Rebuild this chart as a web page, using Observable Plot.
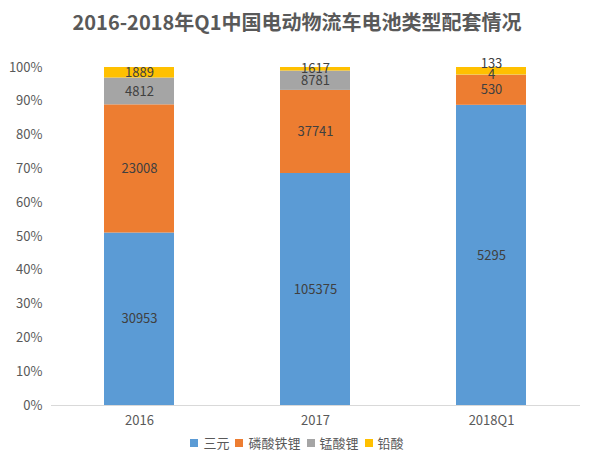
<!DOCTYPE html>
<html>
<head>
<meta charset="utf-8">
<script src="https://cdn.jsdelivr.net/npm/d3@7"></script>
<script src="https://cdn.jsdelivr.net/npm/@observablehq/plot@0.6"></script>
<style>
  html, body { margin: 0; padding: 0; background: #fff; }
  body { width: 594px; height: 467px; font-family: "Noto Sans CJK SC", "Noto Sans", sans-serif; }
  #title { height: 45px; line-height: 44px; text-align: center; font-size: 20px; font-weight: bold; color: #595959; }
  #legend { display: flex; justify-content: center; align-items: center; gap: 6px; font-size: 13px; color: #595959; margin-top: -2px; }
  #legend .item { display: flex; align-items: center; gap: 5px; }
  #legend .sw { width: 8px; height: 8px; display: inline-block; }
</style>
</head>
<body>
<div id="title">2016-2018年Q1中国电动物流车电池类型配套情况</div>
<div id="chart"></div>
<div id="legend"></div>
<script>
// Battery types fitted to electric logistics vehicles, by period
const categories = ["2016", "2017", "2018Q1"];
const seriesNames = ["三元", "磷酸铁锂", "锰酸锂", "铅酸"];
const sanyuan = [30953, 105375, 5295];
const lfp = [23008, 37741, 530];
const lmo = [4812, 8781, 4];
const leadAcid = [1889, 1617, 133];
const seriesColors = ["#5B9BD5", "#ED7D31", "#A5A5A5", "#FFC000"];
const yTicks = [0, 0.1, 0.2, 0.3, 0.4, 0.5, 0.6, 0.7, 0.8, 0.9, 1];

const seriesValues = [sanyuan, lfp, lmo, leadAcid];
const rows = [];
seriesNames.forEach((s, si) => {
  categories.forEach((c, ci) => rows.push({ category: c, series: s, value: seriesValues[si][ci] }));
});

const width = 594, height = 390;
const marginTop = 22, marginBottom = 30, marginLeft = 51, marginRight = 14;
const innerH = height - marginTop - marginBottom;

// Label positions: centre of each stacked segment, nudged up when too close to the one below
const minGap = 11.5 / innerH;
const labels = [];
categories.forEach((c, ci) => {
  const total = seriesValues.reduce((a, v) => a + v[ci], 0);
  let acc = 0, prevY = -Infinity;
  seriesNames.forEach((s, si) => {
    const v = seriesValues[si][ci];
    let y = (acc + v / 2) / total;
    acc += v;
    if (y - prevY < minGap) y = prevY + minGap;
    prevY = y;
    labels.push({ category: c, y, text: String(v) });
  });
});

const chart = Plot.plot({
  width, height, marginTop, marginBottom, marginLeft, marginRight,
  style: { fontFamily: '"Noto Sans CJK SC", "Noto Sans", sans-serif', fontSize: "13px", color: "#595959", background: "transparent" },
  x: { domain: categories, paddingInner: 0.6, paddingOuter: 0.3, label: null, tickSize: 0, tickPadding: 10 },
  y: { domain: [0, 1], ticks: yTicks, tickFormat: d => Math.round(d * 100) + "%", label: null, tickSize: 0, tickPadding: 9 },
  color: { domain: seriesNames, range: seriesColors },
  marks: [
    Plot.barY(rows, Plot.stackY({ offset: "normalize" }, { x: "category", y: "value", fill: "series", z: "series" })),
    Plot.ruleY([0], { stroke: "#D9D9D9", strokeWidth: 1 }),
    Plot.text(labels, { x: "category", y: "y", text: "text", fill: "#404040", fontSize: 13 })
  ]
});
document.getElementById("chart").appendChild(chart);

const legend = document.getElementById("legend");
seriesNames.forEach((s, i) => {
  const item = document.createElement("span");
  item.className = "item";
  item.innerHTML = `<span class="sw" style="background:${seriesColors[i]}"></span><span>${s}</span>`;
  legend.appendChild(item);
});
</script>
</body>
</html>
